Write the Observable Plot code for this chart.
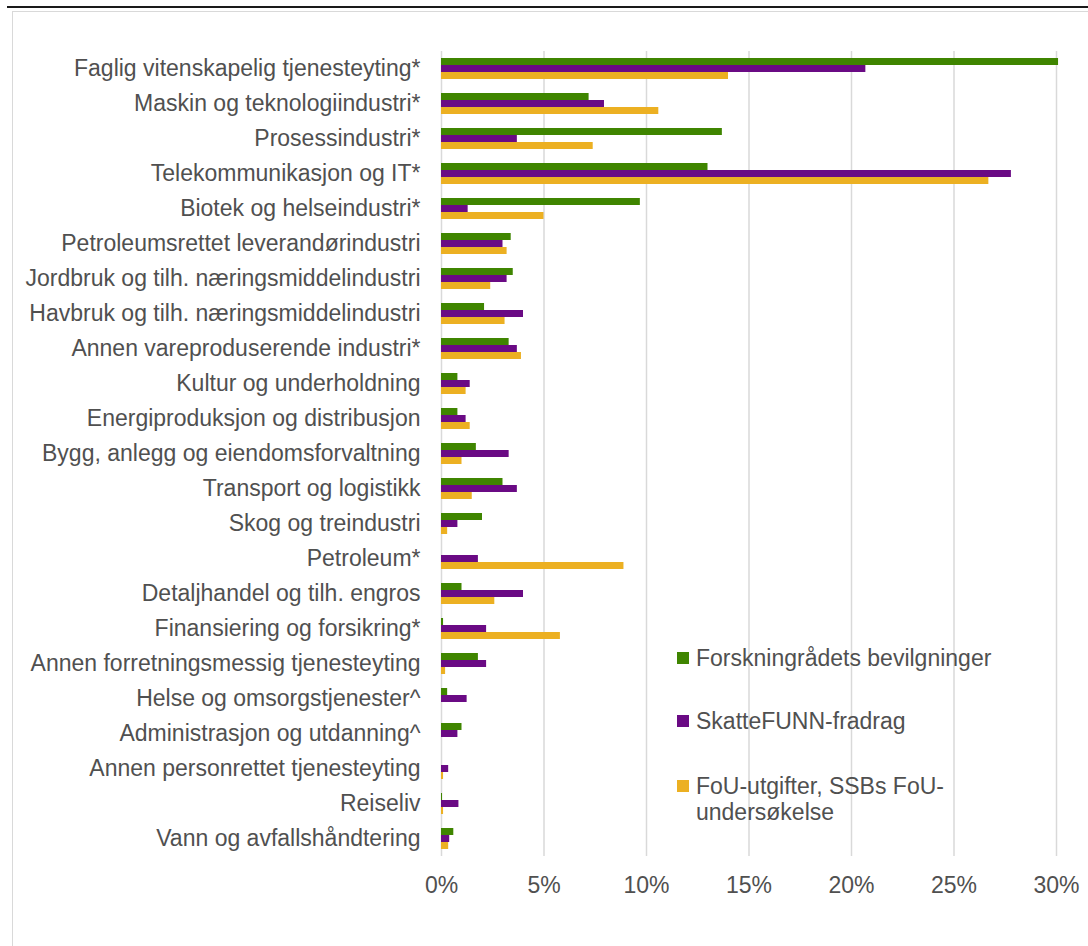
<!DOCTYPE html>
<html>
<head>
<meta charset="utf-8">
<script src="https://cdn.jsdelivr.net/npm/d3@7"></script>
<script src="https://cdn.jsdelivr.net/npm/@observablehq/plot@0.6"></script>
<style>
  html, body { margin: 0; padding: 0; background: #fff; }
  body { width: 1088px; height: 946px; position: relative; overflow: hidden; font-family: "Liberation Sans", Arial, sans-serif; }
  #topline { position: absolute; left: 7px; right: 0; top: 6px; height: 2px; background: #1a1a1a; }
  #frameTop { position: absolute; left: 12px; right: 0; top: 11px; height: 1px; background: #d9d9d9; }
  #frameLeft { position: absolute; left: 12px; top: 11px; bottom: 0; width: 1px; background: #d9d9d9; }
  #chart { position: absolute; left: 0; top: 0; }
  .legend-item { position: absolute; left: 677px; font-size: 23px; line-height: 26px; color: #505050; width: 380px; }
  .legend-item .sw { position: absolute; left: 0; top: 7px; width: 12px; height: 12px; }
  .legend-item .lbl { margin-left: 19px; display: block; width: 280px; }
  .legend-item .lbl.nowrap { white-space: nowrap; }
</style>
</head>
<body>
<div id="topline"></div>
<div id="frameTop"></div>
<div id="frameLeft"></div>
<div id="chart"></div>
<div id="legend"></div>
<script>
const categories = [
  "Faglig vitenskapelig tjenesteyting*",
  "Maskin og teknologiindustri*",
  "Prosessindustri*",
  "Telekommunikasjon og IT*",
  "Biotek og helseindustri*",
  "Petroleumsrettet leverandørindustri",
  "Jordbruk og tilh. næringsmiddelindustri",
  "Havbruk og tilh. næringsmiddelindustri",
  "Annen vareproduserende industri*",
  "Kultur og underholdning",
  "Energiproduksjon og distribusjon",
  "Bygg, anlegg og eiendomsforvaltning",
  "Transport og logistikk",
  "Skog og treindustri",
  "Petroleum*",
  "Detaljhandel og tilh. engros",
  "Finansiering og forsikring*",
  "Annen forretningsmessig tjenesteyting",
  "Helse og omsorgstjenester^",
  "Administrasjon og utdanning^",
  "Annen personrettet tjenesteyting",
  "Reiseliv",
  "Vann og avfallshåndtering"
];

const seriesNames = [
  "Forskningrådets bevilgninger",
  "SkatteFUNN-fradrag",
  "FoU-utgifter, SSBs FoU-undersøkelse"
];

const seriesColors = ["#3f8500", "#6a0a84", "#ecb022"];

const forskningsradet = [30.1, 7.2, 13.7, 13.0, 9.7, 3.4, 3.5, 2.1, 3.3, 0.8, 0.8, 1.7, 3.0, 2.0, 0, 1.0, 0.1, 1.8, 0.3, 1.0, 0, 0.05, 0.6];
const skattefunn      = [20.7, 7.95, 3.7, 27.8, 1.3, 3.0, 3.2, 4.0, 3.7, 1.4, 1.2, 3.3, 3.7, 0.8, 1.8, 4.0, 2.2, 2.2, 1.25, 0.8, 0.35, 0.85, 0.4];
const fouUtgifter     = [14.0, 10.6, 7.4, 26.7, 5.0, 3.2, 2.4, 3.1, 3.9, 1.2, 1.4, 1.0, 1.5, 0.3, 8.9, 2.6, 5.8, 0.2, 0, 0, 0.1, 0.1, 0.35];

const xTicks = [0, 5, 10, 15, 20, 25, 30];

const seriesValues = [forskningsradet, skattefunn, fouUtgifter];

// composite band keys: a spacer above and below each category's group of three bars
const key = (c, s) => c + "\u241F" + s;
const yDomain = [];
const tickKeys = [];
const tickLabel = new Map();
categories.forEach(c => {
  yDomain.push(key(c, "before"));
  seriesNames.forEach(s => yDomain.push(key(c, s)));
  yDomain.push(key(c, "after"));
  tickKeys.push(key(c, seriesNames[1]));
  tickLabel.set(key(c, seriesNames[1]), c);
});

const data = [];
categories.forEach((c, i) => {
  seriesNames.forEach((s, j) => {
    data.push({category: c, series: s, key: key(c, s), value: seriesValues[j][i]});
  });
});

const chart = Plot.plot({
  width: 1088,
  height: 910,
  marginTop: 51,
  marginBottom: 54,
  marginLeft: 441,
  marginRight: 32,
  style: {fontFamily: "'Liberation Sans', Arial, sans-serif", fontSize: "23px", color: "#505050", background: "transparent"},
  x: {domain: [0, 30], label: null},
  y: {domain: yDomain, padding: 0, label: null},
  color: {domain: seriesNames, range: seriesColors},
  marks: [
    Plot.gridX(xTicks, {stroke: "#d9d9d9", strokeOpacity: 1, strokeWidth: 1.5}),
    Plot.barX(data, {x: "value", y: "key", fill: "series"}),
    Plot.axisX({ticks: xTicks, tickFormat: d => d + "%", tickSize: 0, tickPadding: 20, fontSize: 23, fill: "#505050"}),
    Plot.axisY({ticks: tickKeys, tickFormat: k => tickLabel.get(k), tickSize: 0, tickPadding: 21, fontSize: 23, fill: "#505050", label: null})
  ]
});
document.getElementById("chart").appendChild(chart);

// legend overlay inside the plot area
const legendTops = [645, 708, 773];
const legend = document.getElementById("legend");
seriesNames.forEach((s, i) => {
  const item = document.createElement("div");
  item.className = "legend-item";
  item.style.top = legendTops[i] + "px";
  const sw = document.createElement("span");
  sw.className = "sw";
  sw.style.background = seriesColors[i];
  const lbl = document.createElement("span");
  lbl.className = "lbl" + (i < 2 ? " nowrap" : "");
  lbl.textContent = s;
  item.appendChild(sw);
  item.appendChild(lbl);
  legend.appendChild(item);
});
</script>
</body>
</html>
